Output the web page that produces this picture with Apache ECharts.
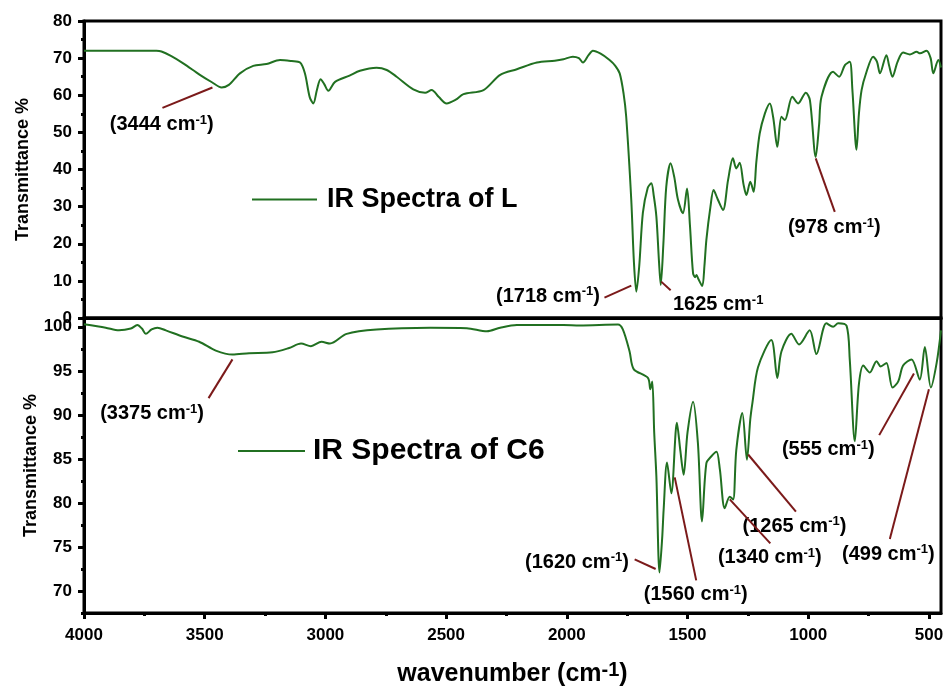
<!DOCTYPE html>
<html>
<head>
<meta charset="utf-8">
<title>IR Spectra</title>
<script src="https://cdn.jsdelivr.net/npm/echarts@6/dist/echarts.min.js"></script>
<style>html,body{margin:0;padding:0;background:#fff}</style>
</head>
<body>
<div id="main" style="width:944px;height:686px;"></div>
<script>
// spectrum of L (top panel)
const wnL = [4000,3850,3700,3679,3640,3589,3520,3470,3430,3400,3354,3299,3244,3188,3140,3105,3085,3065,3050,3035,3020,3005,2988,2960,2900,2857,2788,2746,2705,2636,2587,2560,2530,2498,2460,2428,2345,2276,2207,2124,2050,2014,1975,1950,1933,1910,1892,1860,1823,1800,1781,1765,1754,1733,1722,1712,1700,1685,1665,1650,1640,1629,1618,1611,1600,1588,1570,1555,1540,1519,1502,1490,1477,1468,1463,1455,1439,1430,1422,1405,1392,1375,1353,1332,1312,1298,1284,1268,1256,1240,1226,1215,1201,1180,1159,1145,1128,1111,1097,1066,1042,1010,993,969,955,945,897,872,848,828,817,800,790,779,760,731,715,703,676,665,651,630,607,579,551,537,510,493,482,461,450];
const tL  = [72.0,72.0,72.0,71.8,70.6,68.6,65.5,63.5,62.1,62.8,65.9,67.9,68.4,69.5,69.2,68.8,65.9,59.5,57.8,61.5,64.3,63.0,61.2,63.6,65.3,66.6,67.4,66.8,65.0,61.6,60.7,61.4,59.5,57.8,58.8,60.3,61.4,65.5,67.0,68.8,69.3,69.7,70.4,70.0,68.8,70.8,72.0,71.2,69.5,68.0,65.9,60.5,54.2,31.8,15.0,7.1,14.0,28.3,35.0,36.3,33.0,27.3,15.0,8.9,20.0,35.4,41.7,38.0,32.0,28.2,34.9,25.0,12.0,11.0,11.6,10.5,8.6,14.0,21.0,30.0,34.5,32.0,29.1,37.2,43.0,40.3,41.8,36.0,33.1,36.7,34.0,42.0,49.7,55.0,57.8,54.0,46.1,54.2,53.3,59.6,57.8,60.7,58.7,43.4,52.0,59.6,66.3,65.0,68.1,69.0,61.4,45.3,55.0,61.4,66.0,70.4,69.0,65.9,70.8,68.0,65.0,69.0,71.5,71.0,71.7,71.3,72.0,70.0,65.9,69.5,67.5];

// spectrum of C6 (bottom panel)
const wnC6 = [4000,3910,3855,3806,3779,3760,3744,3720,3696,3661,3592,3523,3454,3385,3316,3219,3150,3101,3060,3016,2981,2912,2788,2566,2414,2331,2276,2207,2014,1947,1788,1768,1740,1723,1664,1654,1646,1638,1629,1616,1605,1599,1585,1567,1544,1530,1516,1500,1477,1457,1440,1422,1401,1380,1366,1346,1325,1311,1298,1273,1254,1240,1231,1208,1153,1128,1111,1070,1038,994,966,925,897,876,841,828,807,790,772,745,717,700,676,651,627,607,572,538,517,492,468,450];
const tC6  = [100.3,99.9,99.6,99.8,100.2,99.8,99.2,99.7,99.9,99.6,98.9,98.3,97.3,96.85,97.0,97.1,97.6,98.1,97.8,98.3,98.1,99.2,99.7,99.9,99.85,99.5,99.9,100.2,100.2,100.15,100.26,99.7,97.2,95.2,94.2,92.9,93.8,88.0,83.0,72.1,76.0,79.2,84.6,81.1,89.1,86.0,83.2,88.0,91.5,86.8,77.9,84.5,85.3,85.8,83.8,79.4,80.7,80.4,86.0,90.2,84.9,89.5,91.4,95.4,98.5,94.2,97.2,99.2,98.0,99.6,96.9,100.4,100.0,100.4,100.1,96.3,87.0,93.5,95.6,94.8,96.1,95.5,95.9,93.1,93.8,95.6,96.3,94.0,97.7,93.1,95.9,99.6];

// tick labels
const xMajor = [4000,3500,3000,2500,2000,1500,1000,500];
const xMinor = [3750,3250,2750,2250,1750,1250,750];
const yMajorC6 = [70,75,80,85,90,95,100];
const yMinorC6 = [67.5,72.5,77.5,82.5,87.5,92.5,97.5];

// peak annotations: label text, leader line ends, label centre (data coords)
const annL = [
  {text:'(3444 cm-1)', from:[3468,62.1], to:[3675,56.6], at:[3676,52.0]},
  {text:'(1718 cm-1)', from:[1733,8.7], to:[1844,5.5], at:[2076,5.7]},
  {text:'1625 cm-1',   from:[1609,9.8], to:[1570,7.5], at:[1371,3.5]},
  {text:'(978 cm-1)',  from:[969,43.0], to:[890,28.6], at:[890,24.2]}
];
const annC6 = [
  {text:'(3375 cm-1)', from:[3385,96.3], to:[3484,91.9], at:[3716,90.1]},
  {text:'(1620 cm-1)', from:[1632,72.5], to:[1719,73.6], at:[1956,73.2]},
  {text:'(1560 cm-1)', from:[1553,82.9], to:[1464,71.2], at:[1464,69.5]},
  {text:'(1340 cm-1)', from:[1325,80.4], to:[1157,75.4], at:[1157,73.7]},
  {text:'(1265 cm-1)', from:[1249,85.5], to:[1051,79.0], at:[1055,77.3]},
  {text:'(555 cm-1)',  from:[562,94.7],  to:[706,87.7],  at:[915,86.0]},
  {text:'(499 cm-1)',  from:[500,92.9],  to:[662,75.9],  at:[666,74.1]}
];

const FONT = 'Liberation Sans, Arial, sans-serif';
const GREEN = '#217021';
const RED = '#7b1a1a';

function zip(xs, ys) { return xs.map((x, i) => [x, ys[i]]); }
function sup(s) { return '{a|' + s.replace('-1', '}{s|-1}{a|') + '}'; }

const annRich = {
  a: {fontFamily: FONT, fontWeight: 'bold', fontSize: 20, color: '#000', lineHeight: 22},
  s: {fontFamily: FONT, fontWeight: 'bold', fontSize: 13, color: '#000', lineHeight: 22, verticalAlign: 'top'}
};

function leaderLines(list) {
  return {
    silent: true, symbol: 'none', animation: false,
    lineStyle: {color: RED, width: 2, type: 'solid'},
    label: {show: false},
    emphasis: {disabled: true},
    data: list.map(a => [{coord: a.from}, {coord: a.to}])
  };
}

function labelSeries(list, xi, yi) {
  return {
    type: 'scatter', xAxisIndex: xi, yAxisIndex: yi, symbolSize: 1,
    itemStyle: {color: 'rgba(0,0,0,0)', opacity: 1}, silent: true,
    label: {show: true, position: [0, 0], align: 'center', verticalAlign: 'middle',
            textBorderWidth: 0, color: '#000', formatter: p => sup(p.name), rich: annRich},
    data: list.map(a => ({name: a.text, value: a.at}))
  };
}

const axisLineStyle = {show: true, lineStyle: {color: '#000', width: 3}};
const labelStyle = {color: '#000', fontFamily: FONT, fontWeight: 'bold', fontSize: 17, formatter: v => String(v)};
const nameStyle = {color: '#000', fontFamily: FONT, fontWeight: 'bold', fontSize: 18};

const chart = echarts.init(document.getElementById('main'));
chart.setOption({
  animation: false,
  backgroundColor: '#fff',
  grid: [
    {left: 84, top: 21, width: 857, height: 297, show: true, borderColor: '#000', borderWidth: 3,
     outerBoundsMode: 'none', containLabel: false},
    {left: 84, top: 318, width: 857, height: 295, show: true, borderColor: '#000', borderWidth: 3,
     outerBoundsMode: 'none', containLabel: false}
  ],
  legend: [
    {data: ['IR Spectra of L'], left: 252, top: 186, padding: 0, icon: 'rect', itemWidth: 65, itemHeight: 2,
     itemStyle: {color: GREEN},
     textStyle: {color: '#000', fontFamily: FONT, fontWeight: 'bold', fontSize: 27, padding: [0, 0, 0, 5]}},
    {data: ['IR Spectra of C6'], left: 238, top: 436, padding: 0, icon: 'rect', itemWidth: 67, itemHeight: 2,
     itemStyle: {color: GREEN},
     textStyle: {color: '#000', fontFamily: FONT, fontWeight: 'bold', fontSize: 30, padding: [0, 0, 0, 3]}}
  ],
  xAxis: [
    {gridIndex: 0, type: 'value', min: 450, max: 4000, inverse: true,
     axisLine: axisLineStyle, axisTick: {show: false}, axisLabel: {show: false}, splitLine: {show: false}},
    {gridIndex: 1, type: 'value', min: 450, max: 4000, inverse: true, position: 'bottom',
     axisLine: axisLineStyle,
     axisTick: {customValues: xMajor, length: 6, lineStyle: {color: '#000', width: 3}},
     axisLabel: Object.assign({customValues: xMajor, margin: 14}, labelStyle),
     splitLine: {show: false},
     name: '{a|wavenumber (cm}{s|-1}{a|)}', nameLocation: 'middle', nameGap: 47, nameMoveOverlap: false,
     nameTextStyle: {rich: {
       a: {fontFamily: FONT, fontWeight: 'bold', fontSize: 25, color: '#000', lineHeight: 28},
       s: {fontFamily: FONT, fontWeight: 'bold', fontSize: 20, color: '#000', lineHeight: 28, verticalAlign: 'top', padding: [0, 0, 6, 0]}
     }}},
    {gridIndex: 1, type: 'value', min: 450, max: 4000, inverse: true, position: 'bottom',
     axisLine: {show: false},
     axisTick: {customValues: xMinor, length: 3, lineStyle: {color: '#000', width: 3}},
     axisLabel: {show: false}, splitLine: {show: false}}
  ],
  yAxis: [
    {gridIndex: 0, type: 'value', min: 0, max: 80, interval: 10,
     axisLine: axisLineStyle,
     axisTick: {length: 6, lineStyle: {color: '#000', width: 3}},
     minorTick: {show: true, splitNumber: 2, length: 3, lineStyle: {color: '#000', width: 3}},
     axisLabel: Object.assign({margin: 12}, labelStyle),
     splitLine: {show: false},
     name: 'Transmittance %', nameLocation: 'middle', nameGap: 52, nameMoveOverlap: false, nameTextStyle: nameStyle},
    {gridIndex: 1, type: 'value', min: 67.5, max: 101,
     axisLine: axisLineStyle,
     axisTick: {customValues: yMajorC6, length: 6, lineStyle: {color: '#000', width: 3}},
     axisLabel: Object.assign({customValues: yMajorC6, margin: 12}, labelStyle),
     splitLine: {show: false},
     name: 'Transmittance %', nameLocation: 'middle', nameGap: 44, nameMoveOverlap: false, nameTextStyle: nameStyle},
    {gridIndex: 1, type: 'value', min: 67.5, max: 101, position: 'left',
     axisLine: {show: false},
     axisTick: {customValues: yMinorC6, length: 3, lineStyle: {color: '#000', width: 3}},
     axisLabel: {show: false}, splitLine: {show: false}}
  ],
  series: [
    {name: 'IR Spectra of L', type: 'line', xAxisIndex: 0, yAxisIndex: 0, data: zip(wnL, tL),
     symbol: 'none', smooth: 0.3, lineStyle: {color: GREEN, width: 2}, itemStyle: {color: GREEN},
     markLine: leaderLines(annL)},
    {name: 'IR Spectra of C6', type: 'line', xAxisIndex: 1, yAxisIndex: 1, data: zip(wnC6, tC6),
     symbol: 'none', smooth: 0.3, lineStyle: {color: GREEN, width: 2}, itemStyle: {color: GREEN},
     markLine: leaderLines(annC6)},
    labelSeries(annL, 0, 0),
    labelSeries(annC6, 1, 1)
  ]
});
</script>
</body>
</html>
